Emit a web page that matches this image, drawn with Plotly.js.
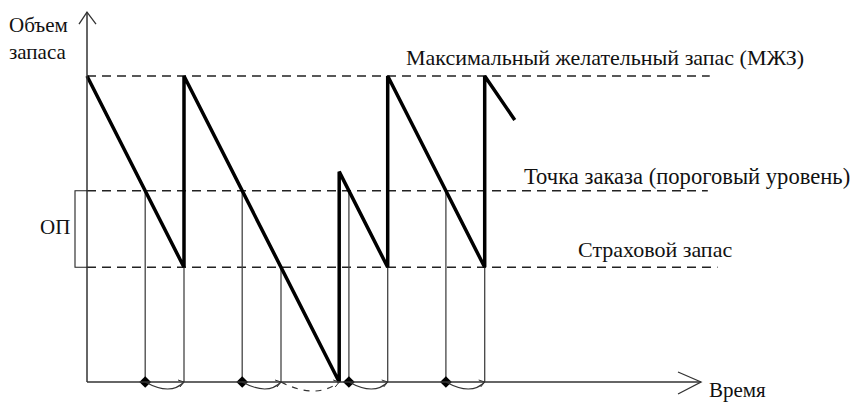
<!DOCTYPE html>
<html>
<head>
<meta charset="utf-8">
<script src="https://cdn.plot.ly/plotly-3.0.1.min.js"></script>
<style>html,body{margin:0;padding:0;background:#fff;}#chart{width:853px;height:404px;}</style>
</head>
<body>
<div id="chart"></div>
<script>
// ---- data (stock units vs time units) ----
const levelNames = ['Максимальный желательный запас (МЖЗ)', 'Точка заказа (пороговый уровень)', 'Страховой запас'];
const levelValues = [8, 5, 3];
const levelEnds = [32.1, 32.0, 32.5];
const stockTime = [0, 5, 5, 13, 13, 15.5, 15.5, 20.5, 20.5, 22.05];
const stockLevel = [8, 3, 8, 0, 5.5, 3, 8, 3, 8, 6.85];
const orderTimes = [3, 8, 13.5, 18.5];
const safetyHitTimes = [5, 10, 15.5, 20.5];
const leadStart = [3, 8, 10, 13.5, 18.5];
const leadEnd = [5, 10, 13, 15.5, 20.5];
const leadDashed = [false, false, true, false, false];
const yTitle = 'Объем<br>запаса';
const xTitle = 'Время';
const opLabel = 'ОП';
const timeAxisEnd = 31.65;
const stockAxisEnd = 9.67;

// ---- pixel helpers for decorations ----
const X0 = 87, PXT = 19.4, Y0 = 382, PXQ = 38.25;
const tx = p => (p - X0) / PXT;
const qy = p => (Y0 - p) / PXQ;
const dt = p => p / PXT;   // pixel length -> time units
const dq = p => p / PXQ;   // pixel length -> stock units

const FONT = 'Liberation Serif, Times New Roman, serif';
const traces = [];

// dashed level lines
levelValues.forEach((v, i) => {
  traces.push({x: [0, levelEnds[i]], y: [v, v], mode: 'lines', hoverinfo: 'skip',
    line: {color: '#222', width: 1.3, dash: '9px,6px'}});
});

// thin drop lines
const dropX = [], dropY = [];
orderTimes.forEach(t => { dropX.push(t, t, null); dropY.push(levelValues[1], 0, null); });
safetyHitTimes.forEach(t => { dropX.push(t, t, null); dropY.push(levelValues[2], 0, null); });
traces.push({x: dropX, y: dropY, mode: 'lines', hoverinfo: 'skip', line: {color: '#444', width: 1.3}});

// stock sawtooth
traces.push({x: stockTime, y: stockLevel, mode: 'lines', hoverinfo: 'skip',
  line: {color: '#000', width: 3.5}});

// order points
traces.push({x: orderTimes, y: orderTimes.map(() => 0), mode: 'markers', hoverinfo: 'skip',
  marker: {symbol: 'diamond', size: 9, color: '#000'}});

const shapes = [];
// axes
shapes.push({type: 'line', xref: 'x', yref: 'y', x0: 0, y0: 0, x1: 0, y1: stockAxisEnd, line: {color: '#333', width: 1.5}});
shapes.push({type: 'line', xref: 'x', yref: 'y', x0: 0, y0: 0, x1: timeAxisEnd, y1: 0, line: {color: '#333', width: 1.5}});
shapes.push({type: 'path', xref: 'x', yref: 'y',
  path: `M ${-dt(8)},${stockAxisEnd - dq(12)} L 0,${stockAxisEnd} L ${dt(9)},${stockAxisEnd - dq(12)}`,
  line: {color: '#333', width: 1.3}});
shapes.push({type: 'path', xref: 'x', yref: 'y',
  path: `M ${timeAxisEnd - dt(23)},${dq(10)} L ${timeAxisEnd},0 L ${timeAxisEnd - dt(23)},${-dq(12)}`,
  line: {color: '#333', width: 1.3}});
// lead-time arrows
leadStart.forEach((s, i) => {
  const e = leadEnd[i];
  const dip = leadDashed[i] ? -dq(18) : -dq(14);
  shapes.push({type: 'path', xref: 'x', yref: 'y',
    path: `M ${s},0 Q ${(s + e) / 2 + dt(6)},${dip} ${e},0`,
    line: {color: '#333', width: 1.1, dash: leadDashed[i] ? '6px,6px' : 'solid'}});
  shapes.push({type: 'path', xref: 'x', yref: 'y',
    path: `M ${e - dt(6)},${dq(2)} L ${e},0 L ${e - dt(4)},${-dq(5)}`,
    line: {color: '#333', width: 1}});
});
// ОП bracket
shapes.push({type: 'path', xref: 'x', yref: 'y',
  path: `M 0,${levelValues[1]} L ${-dt(12)},${levelValues[1]} L ${-dt(12)},${levelValues[2]} L 0,${levelValues[2]}`,
  line: {color: '#222', width: 1.1}});

const ann = (text, px, py, size, yanchor) => ({text, xref: 'x', yref: 'y', x: tx(px), y: qy(py), xanchor: 'left',
  yanchor: yanchor || 'middle', showarrow: false, align: 'left', font: {family: FONT, size: size || 22, color: '#111'}});
const annotations = [
  ann(yTitle, 7, 38, 21),
  ann(levelNames[0], 404, 57, 22),
  ann(levelNames[1], 522, 176, 22.6),
  ann(levelNames[2], 576, 249, 22),
  ann(opLabel, 38, 227, 21),
  ann(xTitle, 707, 404, 21, 'bottom')
];

const layout = {
  width: 853, height: 404, margin: {l: 0, r: 0, t: 0, b: 0},
  paper_bgcolor: '#fff', plot_bgcolor: '#fff', showlegend: false,
  xaxis: {range: [tx(0), tx(853)], visible: false, fixedrange: true},
  yaxis: {range: [qy(404), qy(0)], visible: false, fixedrange: true},
  shapes, annotations
};
Plotly.newPlot('chart', traces, layout, {displayModeBar: false, staticPlot: true});
</script>
</body>
</html>
